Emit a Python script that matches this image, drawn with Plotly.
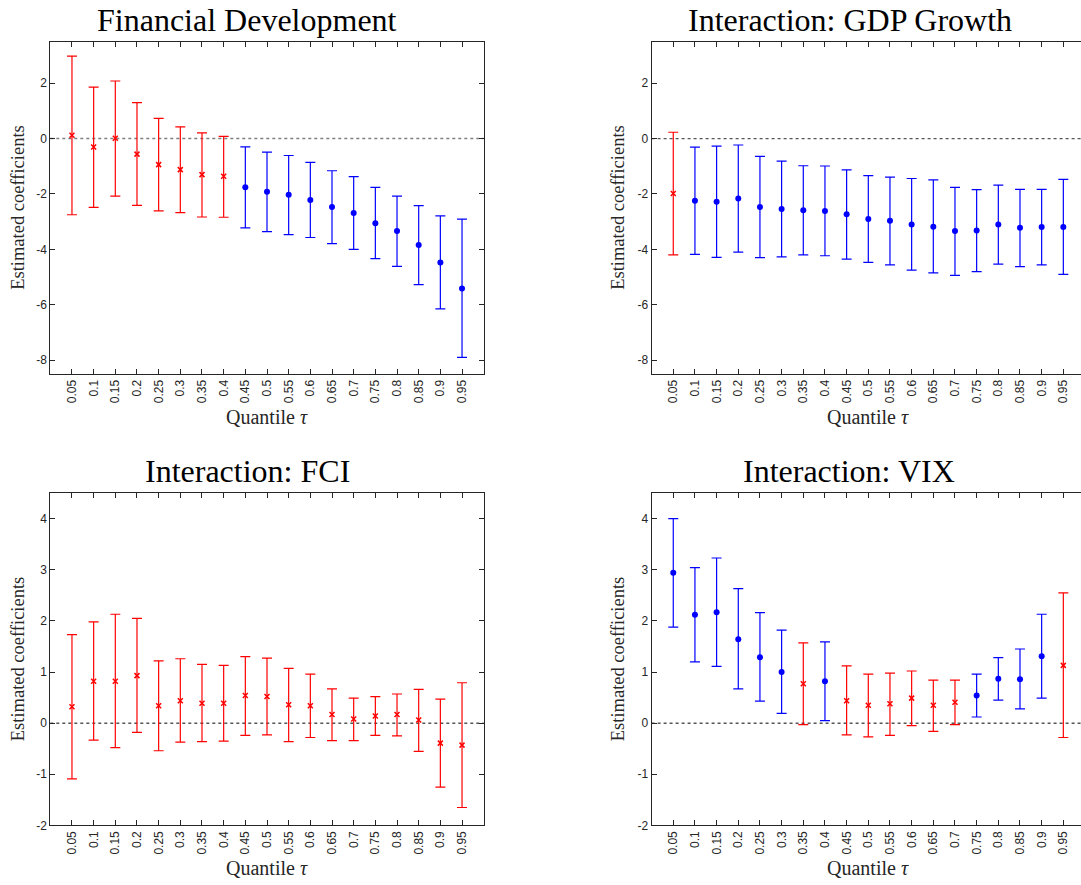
import plotly.graph_objects as go

# ---------------- data ----------------
quantiles = [0.05, 0.10, 0.15, 0.20, 0.25, 0.30, 0.35, 0.40, 0.45, 0.50,
             0.55, 0.60, 0.65, 0.70, 0.75, 0.80, 0.85, 0.90, 0.95]
tick_labels = ["0.05", "0.1", "0.15", "0.2", "0.25", "0.3", "0.35", "0.4", "0.45", "0.5",
               "0.55", "0.6", "0.65", "0.7", "0.75", "0.8", "0.85", "0.9", "0.95"]

panel_titles = ["Financial Development", "Interaction: GDP Growth",
                "Interaction: FCI", "Interaction: VIX"]

fd_est = [0.12, -0.30, 0.01, -0.56, -0.94, -1.12, -1.30, -1.36, -1.76, -1.92,
          -2.03, -2.22, -2.47, -2.69, -3.06, -3.34, -3.84, -4.47, -5.41]
fd_upper = [2.98, 1.86, 2.08, 1.30, 0.73, 0.42, 0.21, 0.08, -0.30, -0.49,
            -0.61, -0.86, -1.16, -1.37, -1.76, -2.08, -2.42, -2.79, -2.91]
fd_lower = [-2.75, -2.48, -2.08, -2.41, -2.61, -2.67, -2.83, -2.84, -3.22, -3.36,
            -3.47, -3.57, -3.79, -4.00, -4.33, -4.61, -5.27, -6.15, -7.90]

gdp_est = [-1.98, -2.24, -2.28, -2.16, -2.47, -2.54, -2.59, -2.61, -2.73, -2.90,
           -2.97, -3.10, -3.18, -3.34, -3.32, -3.10, -3.22, -3.19, -3.19]
gdp_upper = [0.23, -0.31, -0.27, -0.23, -0.64, -0.81, -0.98, -0.99, -1.13, -1.34,
             -1.39, -1.44, -1.49, -1.76, -1.84, -1.68, -1.83, -1.83, -1.47]
gdp_lower = [-4.20, -4.18, -4.29, -4.10, -4.30, -4.27, -4.20, -4.23, -4.35, -4.47,
             -4.56, -4.75, -4.85, -4.94, -4.80, -4.53, -4.62, -4.56, -4.90]

fci_est = [0.32, 0.82, 0.82, 0.93, 0.34, 0.44, 0.39, 0.39, 0.54, 0.52,
           0.36, 0.34, 0.17, 0.08, 0.14, 0.17, 0.06, -0.39, -0.43]
fci_upper = [1.73, 1.98, 2.13, 2.05, 1.22, 1.26, 1.15, 1.13, 1.30, 1.27,
             1.07, 0.96, 0.67, 0.49, 0.52, 0.57, 0.66, 0.47, 0.79]
fci_lower = [-1.09, -0.33, -0.48, -0.18, -0.54, -0.37, -0.36, -0.35, -0.24, -0.23,
             -0.36, -0.28, -0.34, -0.34, -0.24, -0.25, -0.55, -1.25, -1.65]

vix_est = [2.94, 2.12, 2.17, 1.64, 1.29, 1.00, 0.77, 0.82, 0.44, 0.35,
           0.38, 0.49, 0.35, 0.41, 0.54, 0.87, 0.86, 1.31, 1.13]
vix_upper = [4.00, 3.04, 3.23, 2.63, 2.16, 1.82, 1.57, 1.59, 1.12, 0.96,
             0.98, 1.02, 0.84, 0.84, 0.96, 1.28, 1.45, 2.13, 2.55]
vix_lower = [1.88, 1.20, 1.11, 0.67, 0.43, 0.19, -0.03, 0.05, -0.23, -0.27,
             -0.24, -0.05, -0.16, -0.03, 0.12, 0.45, 0.28, 0.49, -0.28]

top_yticks = [-8, -6, -4, -2, 0, 2]
bottom_yticks = [-2, -1, 0, 1, 2, 3, 4]

# ---------------- figure ----------------
W, H = 1081, 885
RED, BLUE = "#ff0000", "#0000ff"
AX = "#262626"


def px_x(v):
    return v / W


def px_y(v):
    return 1 - v / H


fig = go.Figure()

panels = [
    (fd_est, fd_upper, fd_lower, "x", "y"),
    (gdp_est, gdp_upper, gdp_lower, "x2", "y2"),
    (fci_est, fci_upper, fci_lower, "x3", "y3"),
    (vix_est, vix_upper, vix_lower, "x4", "y4"),
]

for est, up, lo, xa, ya in panels:
    for sig in (False, True):
        xs, ys, ep, em = [], [], [], []
        for q, e, u, l in zip(quantiles, est, up, lo):
            s = (l > 0) or (u < 0)
            if s == sig:
                xs.append(q)
                ys.append(e)
                ep.append(u - e)
                em.append(e - l)
        if not xs:
            continue
        col = BLUE if sig else RED
        marker = (dict(symbol="circle", size=6, color=col) if sig else
                  dict(symbol="x-thin", size=5, color=col,
                       line=dict(width=1.5, color=col)))
        fig.add_trace(go.Scatter(
            x=xs, y=ys, mode="markers", xaxis=xa, yaxis=ya,
            marker=marker,
            error_y=dict(type="data", symmetric=False, array=ep, arrayminus=em,
                         color=col, thickness=1.2, width=5),
            showlegend=False, hoverinfo="x+y"))

left_dom = [px_x(50.3), px_x(483.7)]
right_dom = [px_x(651.6), 1.0]
top_dom = [px_y(377), px_y(42)]
bot_dom = [px_y(832), px_y(497)]

tickfont = dict(family="Liberation Sans, Arial, Helvetica, sans-serif", size=12, color=AX)


def xax(domain, anchor, rng):
    return dict(domain=domain, anchor=anchor, range=rng, tickmode="array",
                tickvals=quantiles, ticktext=tick_labels, tickangle=-90,
                ticks="inside", ticklen=5, tickcolor=AX, tickwidth=1,
                showline=True, linecolor=AX, linewidth=1, mirror="ticks",
                showgrid=False, zeroline=False, tickfont=tickfont, fixedrange=True)


def yax(domain, anchor, rng, tv, mirror):
    return dict(domain=domain, anchor=anchor, range=rng, tickmode="array",
                tickvals=tv, ticktext=[str(t) for t in tv],
                ticks="inside", ticklen=5, tickcolor=AX, tickwidth=1,
                showline=True, linecolor=AX, linewidth=1, mirror=mirror,
                showgrid=False, zeroline=False, tickfont=tickfont, fixedrange=True)


right_rng = [0, (W - 651.6) / 433.4]

fig.update_layout(
    width=W, height=H, autosize=False,
    margin=dict(l=0, r=0, t=0, b=0, pad=0),
    paper_bgcolor="white", plot_bgcolor="white",
    xaxis=xax(left_dom, "y", [0, 1]),
    yaxis=yax(top_dom, "x", [-8.5, 3.5], top_yticks, "ticks"),
    xaxis2=xax(right_dom, "y2", right_rng),
    yaxis2=yax(top_dom, "x2", [-8.5, 3.5], top_yticks, False),
    xaxis3=xax(left_dom, "y3", [0, 1]),
    yaxis3=yax(bot_dom, "x3", [-2, 4.5], bottom_yticks, "ticks"),
    xaxis4=xax(right_dom, "y4", right_rng),
    yaxis4=yax(bot_dom, "x4", [-2, 4.5], bottom_yticks, False),
)

# zero reference lines
for xa, ya, col, wd in [("x", "y", "#7f7f7f", 1.5), ("x2", "y2", "#555555", 1.2),
                        ("x3", "y3", "black", 1), ("x4", "y4", "black", 1)]:
    fig.add_shape(type="line", xref=f"{xa} domain", yref=ya, x0=0, x1=1, y0=0, y1=0,
                  line=dict(color=col, width=wd, dash="dot"), layer="below")

serif = "Liberation Serif, Times New Roman, serif"
ann = []
title_pos = [(247, 20), (850, 20), (247, 475), (849, 475)]
for t, (cx, cy) in zip(panel_titles, title_pos):
    ann.append(dict(text=t, x=px_x(cx), y=px_y(cy), xref="paper", yref="paper",
                    showarrow=False, xanchor="center", yanchor="middle",
                    font=dict(family=serif, size=32, color="black")))

for cx, cy in [(267, 420), (868, 420), (267, 875), (868, 875)]:
    ann.append(dict(text="Quantile <i>τ</i>", x=px_x(cx), y=px_y(cy),
                    xref="paper", yref="paper", showarrow=False,
                    xanchor="center", yanchor="middle",
                    font=dict(family=serif, size=20, color=AX)))

for cx, cy in [(18, 209.5), (618, 209.5), (18, 664.5), (618, 664.5)]:
    ann.append(dict(text="Estimated coefficients", x=px_x(cx), y=px_y(cy),
                    xref="paper", yref="paper", showarrow=False, textangle=-90,
                    xanchor="center", yanchor="middle",
                    font=dict(family=serif, size=18.5, color=AX)))

fig.update_layout(annotations=ann)

fig.write_html("out.html",
               config={"displayModeBar": False},
               post_script="document.body.style.margin='0';document.body.style.padding='0';")
